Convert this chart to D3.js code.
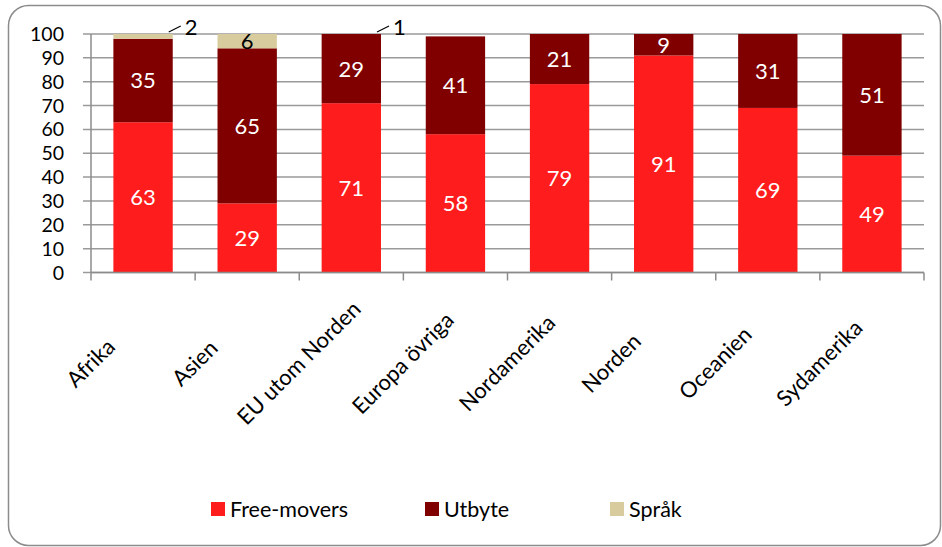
<!DOCTYPE html>
<html>
<head>
<meta charset="utf-8">
<script src="https://cdn.jsdelivr.net/npm/d3@7"></script>
<style>
  body { margin: 0; background: #fff; }
  svg { font-family: Lato, "Open Sans", sans-serif; }
</style>
</head>
<body>
<div class="chart"></div>
<script>
const width = 942
const height = 547
const margin = { top: 34, right: 18, bottom: 275, left: 91 }

// data
const categories = ["Afrika", "Asien", "EU utom Norden", "Europa övriga", "Nordamerika", "Norden", "Oceanien", "Sydamerika"]
const freeMovers = [63, 29, 71, 58, 79, 91, 69, 49]
const utbyte = [35, 65, 29, 41, 21, 9, 31, 51]
const sprak = [2, 6, 1, 0, 0, 0, 0, 0]
const seriesNames = ["Free-movers", "Utbyte", "Språk"]
const yTicks = [0, 10, 20, 30, 40, 50, 60, 70, 80, 90, 100]

const colors = d3.scaleOrdinal()
    .domain(seriesNames)
    .range(["#ff1c1c", "#800000", "#d8cc9f"])

const rows = categories.map((c, i) => ({
    cat: c,
    "Free-movers": freeMovers[i],
    "Utbyte": utbyte[i],
    "Språk": sprak[i]
}))

const stacked = d3.stack().keys(seriesNames)(rows)

const x = d3.scaleBand()
    .domain(categories)
    .range([margin.left, width - margin.right])
    .paddingInner(0.43)
    .paddingOuter(0.215)

const y = d3.scaleLinear()
    .domain([0, 100])
    .range([height - margin.bottom + 0.5, margin.top])
    .clamp(true)

const svg = d3.select(".chart")
    .append("svg")
    .attr("width", width)
    .attr("height", height)

// outer frame
svg.append("rect")
    .attr("x", 8.5)
    .attr("y", 5.5)
    .attr("width", 932)
    .attr("height", 540)
    .attr("rx", 20)
    .attr("fill", "white")
    .attr("stroke", "#8c8c8c")
    .attr("stroke-width", 1.5)

const x0 = x.range()[0]
const x1 = x.range()[1]

// gridlines
svg.append("g")
    .selectAll("line")
    .data(yTicks)
    .join("line")
    .attr("x1", x0 - 8)
    .attr("x2", x1)
    .attr("y1", d => y(d))
    .attr("y2", d => y(d))
    .attr("stroke", "#9a9a9a")
    .attr("stroke-width", 1.5)

// y labels
svg.append("g")
    .selectAll("text")
    .data(yTicks)
    .join("text")
    .attr("x", 64)
    .attr("y", d => y(d))
    .attr("dy", "0.36em")
    .attr("text-anchor", "end")
    .attr("font-size", 19.5)
    .attr("fill", "#000")
    .text(d => d)

// bars
svg.append("g")
    .selectAll("g")
    .data(stacked)
    .join("g")
    .attr("fill", d => colors(d.key))
    .selectAll("rect")
    .data(d => d)
    .join("rect")
    .attr("x", d => x(d.data.cat))
    .attr("width", x.bandwidth())
    .attr("y", d => y(d[1]))
    .attr("height", d => y(d[0]) - y(d[1]))

// axes lines
svg.append("line")
    .attr("x1", x0).attr("x2", x0)
    .attr("y1", y(0)).attr("y2", y(100))
    .attr("stroke", "#8c8c8c").attr("stroke-width", 1.5)

svg.append("line")
    .attr("x1", x0).attr("x2", x1)
    .attr("y1", y(0)).attr("y2", y(0))
    .attr("stroke", "#8c8c8c").attr("stroke-width", 1.5)

// category tick marks at band boundaries
const bounds = categories.map(c => x(c) - x.step() * x.paddingOuter()).concat([x1])
svg.append("g")
    .selectAll("line")
    .data(bounds)
    .join("line")
    .attr("x1", d => d).attr("x2", d => d)
    .attr("y1", y(0)).attr("y2", y(0) + 8)
    .attr("stroke", "#8c8c8c").attr("stroke-width", 1.5)

// rotated category labels, centred on a point down-left of each bar
svg.append("g")
    .selectAll("text")
    .data(categories)
    .join("text")
    .attr("text-anchor", "middle")
    .attr("font-size", 22)
    .attr("fill", "#000")
    .attr("transform", d => `translate(${x(d) + x.bandwidth() / 2 - 47}, ${y(0) + 96}) rotate(-45)`)
    .text(d => d)

// value labels inside segments
const labelData = []
stacked.forEach(s => {
    s.forEach(d => {
        const v = d[1] - d[0]
        if (v <= 0) return
        labelData.push({ key: s.key, cat: d.data.cat, v: v, lo: d[0], hi: d[1] })
    })
})

const inside = labelData.filter(d => d.key !== "Språk" || d.v >= 5)
const outside = labelData.filter(d => d.key === "Språk" && d.v < 5)

svg.append("g")
    .selectAll("text")
    .data(inside)
    .join("text")
    .attr("x", d => x(d.cat) + x.bandwidth() / 2)
    .attr("y", d => (y(d.lo) + y(d.hi)) / 2)
    .attr("dy", "0.36em")
    .attr("text-anchor", "middle")
    .attr("font-size", 22)
    .attr("fill", d => d.key === "Språk" ? "#000" : "#fff")
    .text(d => d.v)

// small labels with leader lines
const out = svg.append("g")
out.selectAll("line")
    .data(outside)
    .join("line")
    .attr("x1", d => x(d.cat) + x.bandwidth() - 4)
    .attr("y1", y(100) - 2)
    .attr("x2", d => x(d.cat) + x.bandwidth() + 8)
    .attr("y2", y(100) - 8)
    .attr("stroke", "#000")
    .attr("stroke-width", 1.2)

out.selectAll("text")
    .data(outside)
    .join("text")
    .attr("x", d => x(d.cat) + x.bandwidth() + 12)
    .attr("y", y(100) + 1)
    .attr("font-size", 22)
    .attr("fill", "#000")
    .text(d => d.v)

// legend
const legendX = [211, 425, 610]
const legend = svg.append("g")
    .selectAll("g")
    .data(seriesNames)
    .join("g")
    .attr("transform", (d, i) => `translate(${legendX[i]}, ${502})`)

legend.append("rect")
    .attr("width", 14)
    .attr("height", 14)
    .attr("fill", d => colors(d))

legend.append("text")
    .attr("x", 19)
    .attr("y", 7)
    .attr("dy", "0.36em")
    .attr("font-size", 21.5)
    .attr("fill", "#000")
    .text(d => d)
</script>
</body>
</html>
